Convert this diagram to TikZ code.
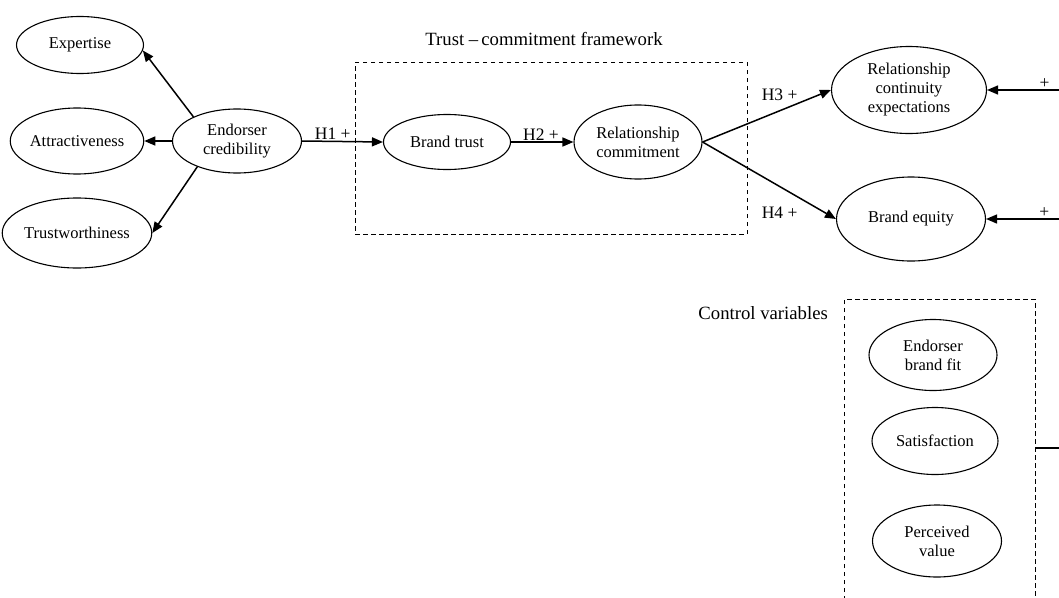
\documentclass[tikz,border=0pt]{standalone}
\usepackage{fontspec}
\setmainfont{Liberation Serif}
\usetikzlibrary{shapes.geometric,arrows.meta}
\tikzset{
  ell/.style={draw, ellipse, inner sep=0pt, line width=1.1pt, align=center, font=\fontsize{16.5}{19}\selectfont},
  arr/.style={line width=1.5pt, -{Triangle[length=11pt,width=9pt]}},
  plain/.style={line width=1.5pt},
  dbox/.style={draw, dashed, line width=0.9pt, dash pattern=on 4.5pt off 3.5pt},
  lbl/.style={font=\fontsize{17.5}{20}\selectfont, inner sep=1pt},
  big/.style={font=\fontsize{18.7}{21}\selectfont, inner sep=1pt},
}
\begin{document}
\begin{tikzpicture}[x=1pt,y=-1pt]
\useasboundingbox (0,0) rectangle (1059,597);
% left group
\node[ell, minimum width=127pt, minimum height=57pt] (exp) at (80,45) {Expertise};
\node[ell, minimum width=133pt, minimum height=66pt] (att) at (77,141) {Attractiveness};
\node[ell, minimum width=134pt, minimum height=70pt] (tw) at (77,233) {Trustworthiness};
\node[ell, minimum width=129pt, minimum height=64pt] (ec) at (237,141) {Endorser\\credibility};
% trust-commitment framework
\node[dbox, minimum width=392pt, minimum height=172pt, inner sep=0pt] (tcf) at (551,148) {};
\node[big] (tcft) at (544,39) {Trust\ --\,commitment framework};
\node[ell, minimum width=127pt, minimum height=55pt] (bt) at (447,142) {Brand trust};
\node[ell, minimum width=128pt, minimum height=74pt] (rc) at (638,142) {Relationship\\commitment};
% outcomes
\node[ell, minimum width=155pt, minimum height=87pt] (rce) at (909,90) {Relationship\\continuity\\expectations};
\node[ell, minimum width=149pt, minimum height=84pt] (be) at (911,219) {Brand equity};
% control variables
\draw[dbox] (844,600) -- (844,299) -- (1035,299) -- (1035,600);
\node[big, anchor=east] (cvt) at (829,313) {Control variables};
\node[ell, minimum width=128pt, minimum height=71pt] (ebf) at (933,355) {Endorser\\brand fit};
\node[ell, minimum width=126pt, minimum height=67pt] (sat) at (935,441) {Satisfaction};
\node[ell, minimum width=129pt, minimum height=72pt] (pv) at (937,541) {Perceived\\value};
\coordinate (cvr) at (1035,448);
\coordinate (cve) at (1059,448);
\coordinate (r1) at (1059,90);
\coordinate (r2) at (1059,219);
% connectors
\draw[arr] (ec.151) -- (exp.-5);
\draw[arr] (ec.west) -- (att.east);
\draw[arr] (ec.-147) -- (tw.east);
\draw[arr] (ec.east) -- node[lbl, above, pos=0.38] {H1 +} (bt.west);
\draw[arr] (bt.east) -- node[lbl, above, pos=0.48] {H2 +} (rc.west);
\draw[arr] (rc.east) -- node[lbl, pos=0.6, yshift=16pt] {H3 +} (rce.west);
\draw[arr] (rc.east) -- node[lbl, pos=0.578, yshift=-26pt] {H4 +} (be.west);
\draw[arr] (r1) -- node[lbl, above, pos=0.2] {+} (rce.east);
\draw[arr] (r2) -- node[lbl, above, pos=0.2] {+} (be.east);
\draw[plain] (cvr) -- (cve);
\end{tikzpicture}
\end{document}
